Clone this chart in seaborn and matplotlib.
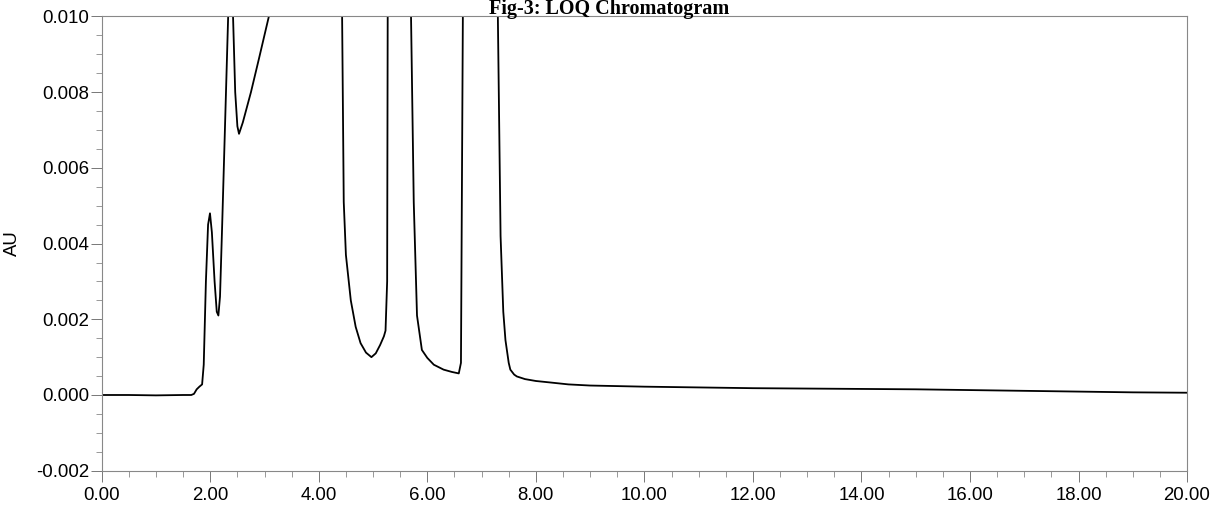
import numpy as np
import pandas as pd
import matplotlib
matplotlib.use("Agg")
import matplotlib.pyplot as plt
from matplotlib.ticker import MultipleLocator, FormatStrFormatter
import seaborn as sns

# Retention time (min) and detector response (AU) of the LOQ run
time_min = [
    0.00, 0.50, 1.00, 1.50, 1.65, 1.70, 1.75, 1.80, 1.85, 1.88, 1.92, 1.96,
    1.995, 2.03, 2.08, 2.12, 2.15, 2.18, 2.22, 2.28, 2.33, 2.38, 2.42, 2.46,
    2.50, 2.53, 2.60, 2.75, 2.90, 3.08, 3.50, 4.00, 4.30, 4.43, 4.46, 4.50,
    4.59, 4.68, 4.77, 4.87, 4.97, 5.05, 5.13, 5.20, 5.23, 5.26, 5.27, 5.45,
    5.70, 5.75, 5.81, 5.90, 6.00, 6.12, 6.30, 6.45, 6.58, 6.62, 6.655, 6.68,
    7.00, 7.30, 7.35, 7.40, 7.44, 7.50, 7.53, 7.60, 7.65, 7.80, 8.00, 8.27,
    8.60, 9.00, 10.00, 11.00, 12.00, 13.00, 14.00, 15.00, 16.00, 17.00,
    18.00, 19.00, 20.00,
]
absorbance_au = [
    0.0, 0.0, -0.00001, 0.0, 0.0, 0.00003, 0.00015, 0.00022, 0.00028, 0.0008,
    0.0030, 0.0045, 0.0048, 0.0043, 0.0030, 0.0022, 0.0021, 0.0026, 0.0045,
    0.0075, 0.0100, 0.0160, 0.0100, 0.0080, 0.0071, 0.0069, 0.0072, 0.0080,
    0.0089, 0.0100, 0.0180, 0.0300, 0.0200, 0.0100, 0.0051, 0.0037, 0.0025,
    0.0018, 0.00137, 0.00112, 0.00100, 0.00110, 0.00132, 0.00155, 0.0017,
    0.0030, 0.0100, 0.0300, 0.0100, 0.0051, 0.0021, 0.00119, 0.00098,
    0.00080, 0.00067, 0.00061, 0.00057, 0.00085, 0.0100, 0.0200, 0.0400,
    0.0100, 0.0042, 0.0022, 0.00145, 0.00085, 0.00067, 0.00054, 0.00049,
    0.00042, 0.00037, 0.00033, 0.00028, 0.00025, 0.00022, 0.00020, 0.00018,
    0.00017, 0.00016, 0.00015, 0.00013, 0.00011, 0.00009, 0.00007, 0.00006,
]

x_ticks = [0, 2, 4, 6, 8, 10, 12, 14, 16, 18, 20]
y_ticks = [-0.002, 0.000, 0.002, 0.004, 0.006, 0.008, 0.010]

sns.set_theme(style="white")
plt.rcParams["font.family"] = ["Liberation Sans", "DejaVu Sans"]
plt.rcParams["axes.unicode_minus"] = False

df = pd.DataFrame({"Minutes": time_min, "AU": absorbance_au})

fig = plt.figure(figsize=(12.24, 5.07), dpi=100)
ax = fig.add_axes([0.0831, 0.0716, 0.8867, 0.8959])

sns.lineplot(data=df, x="Minutes", y="AU", ax=ax, color="black",
             linewidth=1.3, sort=False, estimator=None)

ax.set_xlim(0, 20)
ax.set_ylim(-0.002, 0.010)
ax.set_xticks(x_ticks)
ax.set_yticks(y_ticks)
ax.xaxis.set_minor_locator(MultipleLocator(0.5))
ax.yaxis.set_minor_locator(MultipleLocator(0.0005))
ax.xaxis.set_major_formatter(FormatStrFormatter("%.2f"))
ax.yaxis.set_major_formatter(FormatStrFormatter("%.3f"))

ax.tick_params(axis="both", which="major", direction="out", length=8,
               width=0.7, color="#777777", labelsize=13.4, labelcolor="black")
ax.tick_params(axis="x", which="major", pad=4)
ax.tick_params(axis="y", which="major", pad=1)
ax.tick_params(axis="both", which="minor", direction="out", length=4,
               width=0.6, color="#888888")
ax.tick_params(bottom=True, left=True, which="both")

for spine in ax.spines.values():
    spine.set_visible(True)
    spine.set_color("#888888")
    spine.set_linewidth(0.8)
    spine.set_linestyle((0, (2, 1)))

ax.set_xlabel("")
ax.set_ylabel("AU", fontsize=13.4, color="black")
ax.yaxis.set_label_coords(-0.0748, 0.501)

fig.text(609.5 / 1224, 1 - 14.0 / 507, "Fig-3: LOQ Chromatogram",
         ha="center", va="baseline", fontsize=14.5, fontweight="bold",
         family=["Liberation Serif", "DejaVu Serif"], color="black")

fig.savefig("out.png", dpi=100)
